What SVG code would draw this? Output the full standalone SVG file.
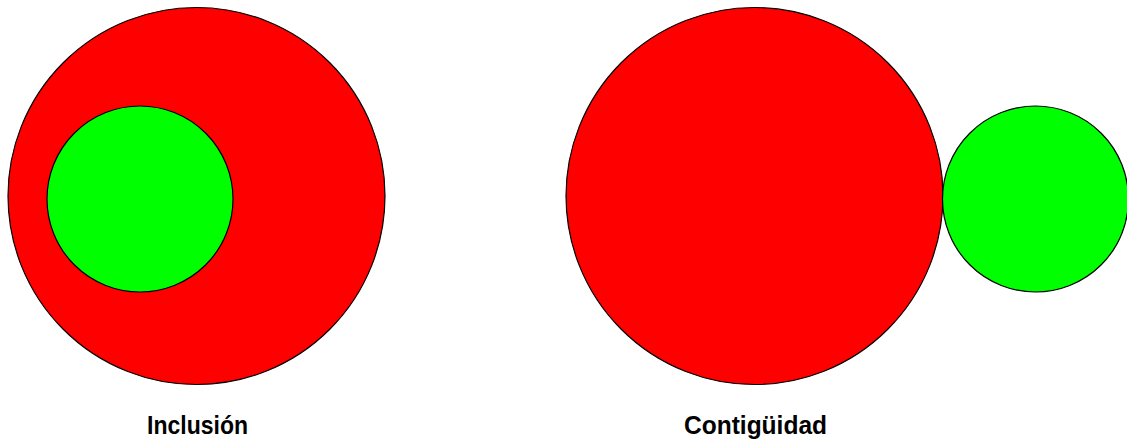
<svg xmlns="http://www.w3.org/2000/svg" width="1127" height="441" viewBox="0 0 1127 441">
<style>
.big{fill:#ff0000;stroke:#000;stroke-width:1.2}
.small{fill:#00ff00;stroke:#000;stroke-width:1.2}
.lbl{font-family:"Liberation Sans",Arial,sans-serif;font-weight:bold;font-size:25px;fill:#000;text-anchor:middle}
</style>
<rect width="1127" height="441" fill="#fff"/>
<g id="inclusion">
<circle class="big" cx="196.5" cy="196" r="188.5"/>
<circle class="small" cx="140" cy="199" r="93"/>
<text class="lbl" x="197.5" y="434" textLength="101" lengthAdjust="spacingAndGlyphs">Inclusión</text>
</g>
<g id="contiguidad">
<circle class="big" cx="754.5" cy="196" r="188.5"/>
<circle class="small" cx="1035.5" cy="199" r="93"/>
<text class="lbl" x="755.5" y="434" textLength="143" lengthAdjust="spacingAndGlyphs">Contigüidad</text>
</g>
<g id="connectors"></g>
</svg>
